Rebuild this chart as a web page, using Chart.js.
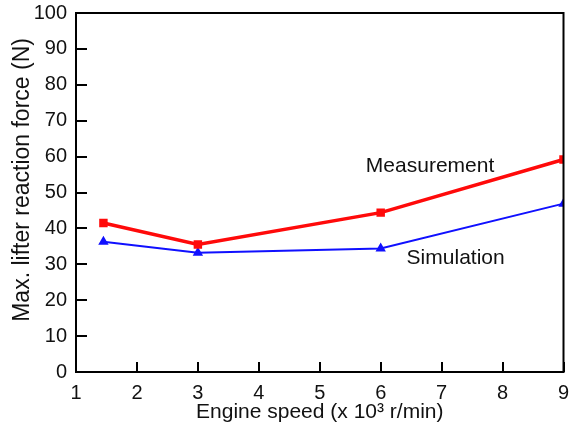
<!DOCTYPE html>
<html>
<head>
<meta charset="utf-8">
<script src="https://cdn.jsdelivr.net/npm/chart.js@4/dist/chart.umd.min.js"></script>
<style>
  html, body { margin: 0; padding: 0; background: #fff; }
  #wrap { width: 571px; height: 425px; }
</style>
</head>
<body>
<div id="wrap"><canvas id="chartLifter"></canvas></div>
<script>
// ==================== DADOS ====================
const engineSpeed = [1.45, 3, 6, 9];
const measurement = [41.5, 35.5, 44.4, 59.2];
const simulation = [36.3, 33.2, 34.4, 46.9];
const xTicks = [1, 2, 3, 4, 5, 6, 7, 8, 9];
const yTicks = [0, 10, 20, 30, 40, 50, 60, 70, 80, 90, 100];

// rótulos escritos dentro do gráfico (posição em coordenadas de dados)
const seriesLabels = [
  { text: 'Measurement', x: 6.81, y: 57.2 },
  { text: 'Simulation', x: 7.23, y: 31.8 },
];
const yTitle = 'Max. lifter reaction force (N)';

const font = 'Liberation Sans, Arial, sans-serif';

// moldura, ticks para dentro, rótulos das séries e título do eixo y
const framePlugin = {
  id: 'frame',
  afterDraw(chart) {
    const { ctx, chartArea: a, scales } = chart;
    ctx.save();
    ctx.strokeStyle = '#000';
    ctx.lineWidth = 2;
    ctx.strokeRect(a.left, a.top, a.right - a.left, a.bottom - a.top);
    ctx.beginPath();
    xTicks.forEach(v => {
      const px = Math.round(scales.x.getPixelForValue(v));
      ctx.moveTo(px, a.bottom);
      ctx.lineTo(px, a.bottom - 10);
    });
    yTicks.forEach(v => {
      const py = Math.round(scales.y.getPixelForValue(v));
      ctx.moveTo(a.left, py);
      ctx.lineTo(a.left + 11, py);
    });
    ctx.stroke();

    ctx.fillStyle = '#111';
    ctx.font = '21px ' + font;
    ctx.textAlign = 'center';
    ctx.textBaseline = 'middle';
    seriesLabels.forEach(l => {
      ctx.fillText(l.text, scales.x.getPixelForValue(l.x), scales.y.getPixelForValue(l.y));
    });

    // título do eixo y (um pouco acima do centro, como no original)
    ctx.translate(23, scales.y.getPixelForValue(53.5));
    ctx.rotate(-Math.PI / 2);
    ctx.font = '23px ' + font;
    ctx.fillText(yTitle, 0, 0);
    ctx.restore();
  }
};

const cxLifter = document.getElementById('chartLifter');
const chtLifter = new Chart(cxLifter, {
  type: 'line',
  data: {
    datasets: [
      {
        label: 'Measurement',
        data: engineSpeed.map((x, i) => ({ x: x, y: measurement[i] })),
        borderColor: '#ff0a0a',
        backgroundColor: '#ff0a0a',
        borderWidth: 3.5,
        pointStyle: 'rect',
        pointRadius: 3.5,
        tension: 0,
      },
      {
        label: 'Simulation',
        data: engineSpeed.map((x, i) => ({ x: x, y: simulation[i] })),
        borderColor: '#1010ff',
        backgroundColor: '#1010ff',
        borderWidth: 2,
        pointStyle: 'triangle',
        pointRadius: 4,
        tension: 0,
      },
    ]
  },
  options: {
    responsive: true,
    maintainAspectRatio: false,
    animation: false,
    layout: { padding: { top: 13, right: 6, left: 0, bottom: 0 } },
    scales: {
      x: {
        type: 'linear',
        min: 1,
        max: 9,
        afterBuildTicks: s => { s.ticks = xTicks.map(v => ({ value: v })); },
        afterFit: s => { s.height = 53; s.paddingLeft = 0; s.paddingRight = 0; },
        grid: { display: false, drawTicks: false },
        border: { display: false },
        ticks: { color: '#111', font: { family: font, size: 20 }, padding: 9, maxRotation: 0 },
        title: { display: true, text: 'Engine speed (x 10³ r/min)', color: '#111',
                 font: { family: font, size: 21 }, padding: { top: 0, bottom: 0 } },
      },
      y: {
        min: 0,
        max: 100,
        afterBuildTicks: s => { s.ticks = yTicks.map(v => ({ value: v })); },
        afterFit: s => { s.width = 76; s.paddingTop = 0; s.paddingBottom = 0; },
        grid: { display: false, drawTicks: false },
        border: { display: false },
        ticks: { color: '#111', font: { family: font, size: 20 }, padding: 9 },
        title: { display: false },
      },
    },
    plugins: {
      legend: { display: false },
      title: { display: false },
      tooltip: { enabled: false },
    },
  },
  plugins: [framePlugin],
});
</script>
</body>
</html>
